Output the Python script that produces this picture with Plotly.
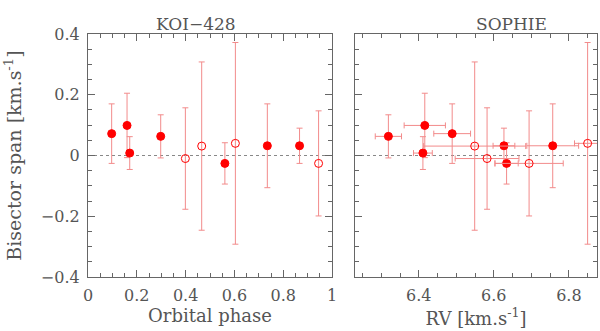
import plotly.graph_objects as go
from plotly.subplots import make_subplots

# Bisector span measurements (km/s) and their uncertainties
bis = [0.072, 0.099, 0.008, 0.063, -0.010, 0.031, -0.026, 0.040, 0.032, 0.032, -0.026]
bis_err = [0.098, 0.106, 0.054, 0.071, 0.167, 0.277, 0.068, 0.332, 0.138, 0.058, 0.173]
# orbital phase of each measurement
phase = [0.097, 0.160, 0.171, 0.298, 0.399, 0.466, 0.561, 0.604, 0.735, 0.867, 0.945]
# radial velocities (km/s) and their uncertainties
rv = [6.489, 6.416, 6.411, 6.319, 6.582, 6.549, 6.634, 6.850, 6.757, 6.627, 6.694]
rv_err = [0.049, 0.055, 0.025, 0.035, 0.085, 0.136, 0.031, 0.035, 0.069, 0.029, 0.091]
# filled = good spectra, open = low S/N
filled = [True, True, True, True, False, False, True, False, True, True, False]

RED = "#ff0000"
ERR = "#f28b8b"
GRID = "#666666"
TXT = "#555555"
FONT = "DejaVu Serif"

fig = make_subplots(rows=1, cols=2, shared_yaxes=True)


def pick(vals, keep):
    return [v for v, f in zip(vals, filled) if f == keep]


for keep in (True, False):
    sym = "circle" if keep else "circle-open"
    mk = dict(symbol=sym, size=8, color=RED, line=dict(color=RED, width=1))
    fig.add_trace(go.Scatter(
        x=pick(phase, keep), y=pick(bis, keep), mode="markers", marker=mk,
        error_y=dict(type="data", array=pick(bis_err, keep), color=ERR, thickness=1, width=3),
        showlegend=False), row=1, col=1)
    fig.add_trace(go.Scatter(
        x=pick(rv, keep), y=pick(bis, keep), mode="markers", marker=mk,
        error_x=dict(type="data", array=pick(rv_err, keep), color=ERR, thickness=1, width=3),
        error_y=dict(type="data", array=pick(bis_err, keep), color=ERR, thickness=1, width=3),
        showlegend=False), row=1, col=2)

# dotted zero line in each panel
for xr in ("x domain", "x2 domain"):
    fig.add_shape(type="line", xref=xr, yref="y", x0=0, x1=1, y0=0, y1=0,
                  line=dict(color="#888888", width=1.2, dash="dot"), layer="below")

axis_common = dict(
    showgrid=False, zeroline=False, showline=True, mirror="ticks", automargin=False,
    linecolor=GRID, linewidth=1.2, ticks="inside", ticklen=7, tickwidth=1,
    tickcolor=GRID, tickfont=dict(family=FONT, size=16, color=TXT),
    minor=dict(ticks="inside", ticklen=4, tickwidth=1, tickcolor=GRID, showgrid=False),
)

fig.update_xaxes(axis_common)
fig.update_yaxes(axis_common)

xtitle_font = dict(family=FONT, size=18, color=TXT)
fig.update_xaxes(range=[0, 1], tick0=0, dtick=0.2, ticklabelstandoff=4,
                 minor=dict(dtick=0.05), domain=[88 / 600, 332 / 600],
                 title=dict(text="Orbital phase", font=xtitle_font, standoff=3),
                 row=1, col=1)
fig.update_xaxes(range=[6.23, 6.875], tick0=6.4, dtick=0.2, ticklabelstandoff=4,
                 minor=dict(dtick=0.05, tick0=6.25), domain=[355 / 600, 597 / 600],
                 title=dict(text="RV [km.s<sup>-1</sup>]", font=xtitle_font, standoff=3),
                 row=1, col=2)
fig.update_yaxes(range=[-0.4, 0.4], tick0=0, dtick=0.2,
                 minor=dict(dtick=0.05), ticklabelstandoff=4,
                 domain=[54 / 331, 297 / 331])
fig.update_yaxes(title=dict(text="Bisector span [km.s<sup>-1</sup>]",
                            font=dict(family=FONT, size=19, color=TXT), standoff=14),
                 row=1, col=1)
fig.update_yaxes(showticklabels=False, row=1, col=2)

fig.add_annotation(text="KOI\u2212428", x=154 / 600, y=1 - 12 / 331, xref="paper", yref="paper",
                   showarrow=False, font=dict(family=FONT, size=17, color=TXT))
fig.add_annotation(text="SOPHIE", x=549 / 600, y=1 - 12 / 331, xref="paper", yref="paper",
                   showarrow=False, font=dict(family=FONT, size=17, color=TXT))

fig.update_layout(
    width=600, height=331,
    margin=dict(l=0, r=0, t=0, b=0),
    paper_bgcolor="white", plot_bgcolor="white",
)

# page body has a default margin, drop it so the figure fills the window
fig.write_html("out.html", config={"displayModeBar": False},
               post_script="document.body.style.margin='0';")
